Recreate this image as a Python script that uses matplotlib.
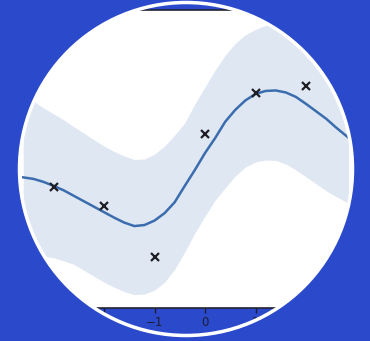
import numpy as np
import matplotlib
matplotlib.use('Agg')
import matplotlib.pyplot as plt
from matplotlib.path import Path
from matplotlib.patches import PathPatch, Circle
from matplotlib.transforms import IdentityTransform

# --- Data ---
# observed points
x_obs = [-3, -2, -1, 0, 1, 2]
y_obs = [-0.56, -0.95, -1.97, 0.50, 1.33, 1.47]

# predicted mean and confidence band
x_pred = [-3.6, -3.4, -3.2, -3.0, -2.8, -2.6, -2.4, -2.2, -2.0, -1.8, -1.6,
          -1.4, -1.2, -1.0, -0.8, -0.6, -0.4, -0.2, 0.0, 0.2, 0.4, 0.6,
          0.8, 1.0, 1.2, 1.4, 1.6, 1.8, 2.0, 2.2, 2.4, 2.6, 2.84]
y_mean = [-0.37, -0.40, -0.46, -0.54, -0.63, -0.74, -0.85, -0.96, -1.07, -1.18, -1.28,
          -1.35, -1.33, -1.24, -1.09, -0.87, -0.54, -0.22, 0.12, 0.42, 0.75, 0.99,
          1.18, 1.31, 1.37, 1.38, 1.34, 1.25, 1.11, 0.96, 0.81, 0.63, 0.43]
y_upper = [1.27, 1.17, 1.03, 0.91, 0.79, 0.65, 0.52, 0.39, 0.26, 0.15, 0.06,
           -0.01, 0.00, 0.10, 0.26, 0.48, 0.73, 1.11, 1.45, 1.79, 2.09, 2.33,
           2.50, 2.61, 2.69, 2.76, 2.79, 2.78, 2.68, 2.54, 2.36, 2.15, 1.83]
y_lower = [-1.95, -1.94, -1.95, -1.99, -2.05, -2.12, -2.24, -2.36, -2.48, -2.58, -2.67,
           -2.73, -2.72, -2.64, -2.48, -2.22, -1.87, -1.49, -1.15, -0.83, -0.58, -0.34,
           -0.16, -0.06, -0.02, -0.03, -0.10, -0.22, -0.36, -0.50, -0.64, -0.76, -0.89]

x_ticks = [-2, -1, 0, 1]
x_tick_labels = ['\u22122', '\u22121', '0', '1']

# --- Figure ---
W, H = 370, 341
bg = '#2a4acb'
fig = plt.figure(figsize=(W / 100, H / 100), dpi=100, facecolor=bg)

# axes: bottom spine at y=308 px, top at y=10 px (from top)
ax = fig.add_axes([0, (H - 308) / H, 1, 298 / H])
ax.set_facecolor('white')
ax.fill_between(x_pred, y_lower, y_upper, color='#dfe7f2', lw=0)
ax.plot(x_pred, y_mean, color='#3b6dae', lw=1.8, solid_joinstyle='round')
ax.plot(x_obs, y_obs, 'x', color='#1e1e24', markersize=5.5, mew=1.6)

ax.set_xlim(-205 / 50.5, 165 / 50.5)
ax.set_ylim(-3, 3)
ax.set_yticks([])
ax.set_xticks(x_ticks)
ax.set_xticklabels(x_tick_labels)
ax.tick_params(axis='x', length=3.5, width=1, color='#1c1c36', labelcolor='#1c1c36',
               labelsize=8.5, pad=2)
for s in ax.spines.values():
    s.set_color('#222233')
    s.set_linewidth(1.2)

# --- circular mask: blue everywhere outside the circle ---
cx, cy, r = 186, H - 169, 166.5
outer = Path([(-10, -10), (W + 10, -10), (W + 10, H + 10), (-10, H + 10), (-10, -10)],
             [Path.MOVETO, Path.LINETO, Path.LINETO, Path.LINETO, Path.CLOSEPOLY])
t = np.linspace(0, 2 * np.pi, 721)[::-1]
hole = Path(np.column_stack([cx + r * np.cos(t), cy + r * np.sin(t)]), closed=True)
mask = PathPatch(Path.make_compound_path(outer, hole), facecolor=bg, edgecolor='none',
                 transform=IdentityTransform(), zorder=10)
fig.add_artist(mask)

# white ring
ring = Circle((cx, cy), r, facecolor='none', edgecolor='white', lw=3.5 * 72 / 100,
              transform=IdentityTransform(), zorder=11)
fig.add_artist(ring)

fig.savefig('out.png', dpi=100, facecolor=bg)
